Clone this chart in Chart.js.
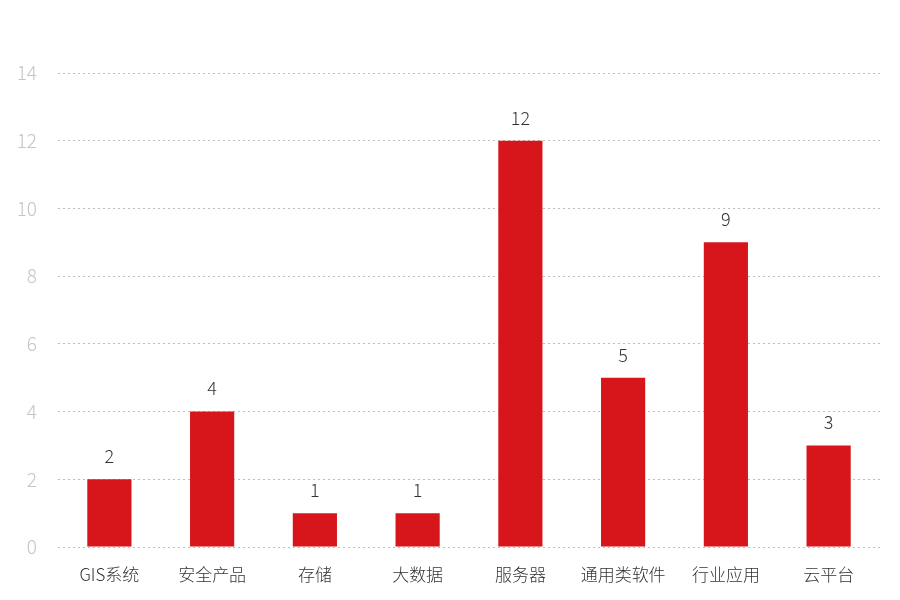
<!DOCTYPE html>
<html>
<head>
<meta charset="utf-8">
<script src="https://cdn.jsdelivr.net/npm/chart.js@4/dist/chart.umd.min.js"></script>
<style>
  html, body { margin: 0; padding: 0; background: #fff; }
  #wrap { width: 900px; height: 600px; position: relative; }
</style>
</head>
<body>
<div id="wrap"><canvas id="chart"></canvas></div>
<script>
const categories = ['GIS系统', '安全产品', '存储', '大数据', '服务器', '通用类软件', '行业应用', '云平台']
const counts = [2, 4, 1, 1, 12, 5, 9, 3]
const yTicks = [0, 2, 4, 6, 8, 10, 12, 14]

const FONT = '"Noto Sans CJK SC", "Noto Sans", sans-serif'

// draws the number above each bar
const valueLabels = {
  id: 'valueLabels',
  afterDatasetsDraw(chart) {
    const ctx = chart.ctx
    const meta = chart.getDatasetMeta(0)
    ctx.save()
    ctx.font = `300 18px ${FONT}`
    ctx.fillStyle = '#333'
    ctx.textAlign = 'center'
    ctx.textBaseline = 'bottom'
    meta.data.forEach((bar, i) => {
      ctx.fillText(String(counts[i]), bar.x, bar.y - 14)
    })
    ctx.restore()
  },
}

new Chart(document.getElementById('chart'), {
  type: 'bar',
  data: {
    labels: categories,
    datasets: [{
      data: counts,
      backgroundColor: '#d7161b',
      borderWidth: 0,
      categoryPercentage: 1,
      barPercentage: 0.43,
    }],
  },
  options: {
    responsive: true,
    maintainAspectRatio: false,
    animation: false,
    layout: { padding: { top: 73, right: 20, bottom: 0, left: 0 } },
    plugins: { legend: { display: false }, tooltip: { enabled: false } },
    scales: {
      x: {
        grid: { display: false },
        border: { display: false },
        ticks: { color: '#333', font: { family: FONT, size: 17, weight: 300 }, padding: 9 },
        afterFit: (s) => { s.height = 53 },
      },
      y: {
        min: 0,
        max: 14,
        afterBuildTicks: (s) => { s.ticks = yTicks.map((v) => ({ value: v })) },
        grid: { color: '#bdbdbd', lineWidth: 1, drawTicks: false },
        border: { display: false, dash: [2, 3] },
        ticks: { color: '#c4c4c4', font: { family: FONT, size: 19, weight: 300 }, padding: 21 },
        afterFit: (s) => { s.width = 58 },
      },
    },
  },
  plugins: [valueLabels],
})
</script>
</body>
</html>
